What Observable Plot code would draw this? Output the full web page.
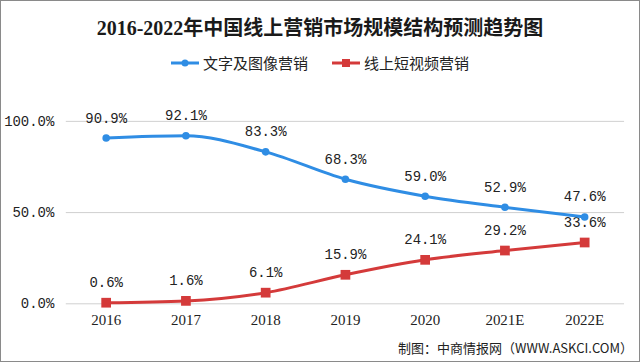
<!DOCTYPE html>
<html>
<head>
<meta charset="utf-8">
<script src="https://cdn.jsdelivr.net/npm/d3@7"></script>
<script src="https://cdn.jsdelivr.net/npm/@observablehq/plot@0.6"></script>
<style>
  html, body { margin: 0; padding: 0; background: #fff; }
  #wrap { position: relative; width: 638px; height: 360px; border: 1px solid #8a8a8a; overflow: hidden; background: #fff; }
  #title { position: absolute; left: 0; width: 638px; top: 16px; line-height: 22px; text-align: center; font-family: "Liberation Serif", "Noto Sans CJK SC", serif; font-weight: bold; font-size: 20px; color: #1a1a1a; }
  #legend { position: absolute; left: 0; width: 638px; top: 52px; line-height: 20px; text-align: center; font-family: "Noto Sans CJK SC", sans-serif; font-size: 15px; color: #222; }
  .li { display: inline-flex; align-items: center; margin: 0 12px; }
  .li svg { margin-right: 4px; }
  #chart { position: absolute; left: 0; top: 80px; }
  #caption { position: absolute; right: 6px; top: 338px; line-height: 18px; font-family: "Noto Sans CJK SC", sans-serif; font-size: 13px; color: #222; }
</style>
</head>
<body>
<div id="wrap">
  <div id="title"></div>
  <div id="legend"></div>
  <div id="chart"></div>
  <div id="caption"></div>
</div>
<script>
const titleText = "2016-2022年中国线上营销市场规模结构预测趋势图";
const captionText = "制图：中商情报网（WWW.ASKCI.COM）";
const years = ["2016", "2017", "2018", "2019", "2020", "2021E", "2022E"];
const seriesNames = ["文字及图像营销", "线上短视频营销"];
const textImage = [90.9, 92.1, 83.3, 68.3, 59.0, 52.9, 47.6];
const shortVideo = [0.6, 1.6, 6.1, 15.9, 24.1, 29.2, 33.6];
const yTicks = [0, 50, 100];
const colors = ["#2f8de4", "#d43a3a"];

document.getElementById("title").textContent = titleText;
document.getElementById("caption").textContent = captionText;

const legend = document.getElementById("legend");
seriesNames.forEach((name, i) => {
  const item = document.createElement("span");
  item.className = "li";
  const marker = i === 0
    ? `<circle cx="14" cy="6" r="3.5" fill="${colors[0]}"/>`
    : `<rect x="10" y="2" width="8" height="8" fill="${colors[1]}"/>`;
  item.innerHTML = `<svg width="28" height="12"><line x1="0" x2="28" y1="6" y2="6" stroke="${colors[i]}" stroke-width="3"/>${marker}</svg><span>${name}</span>`;
  legend.appendChild(item);
});

const blue = years.map((y, i) => ({year: y, value: textImage[i]}));
const red = years.map((y, i) => ({year: y, value: shortVideo[i]}));
const fmt = d => d.toFixed(1) + "%";

const chart = Plot.plot({
  width: 640,
  height: 260,
  marginLeft: 65,
  marginRight: 15,
  marginTop: 40,
  marginBottom: 37,
  style: {fontFamily: "Liberation Mono, monospace", fontSize: "14px", color: "#222", background: "transparent"},
  x: {type: "point", domain: years, padding: 0.5, label: null},
  y: {domain: [0, 100], label: null},
  marks: [
    Plot.gridY(yTicks, {stroke: "#d0d0d0", strokeOpacity: 1, strokeWidth: 1}),
    Plot.axisY(yTicks, {tickSize: 0, tickPadding: 12, tickFormat: fmt, label: null, fontSize: 14, fontFamily: "Liberation Mono, monospace"}),
    Plot.axisX({tickSize: 0, tickPadding: 11, label: null, fontSize: 15, fontFamily: "Liberation Serif, serif"}),
    Plot.line(red, {x: "year", y: "value", stroke: colors[1], strokeWidth: 3, curve: "monotone-x"}),
    Plot.dot(red, {x: "year", y: "value", symbol: "square", r: 5.5, fill: colors[1], stroke: null}),
    Plot.text(red, {x: "year", y: "value", text: d => fmt(d.value), dy: -20, fontSize: 14, fill: "#222"}),
    Plot.text(blue, {x: "year", y: "value", text: d => fmt(d.value), dy: -20, fontSize: 14, fill: "#222"}),
    Plot.line(blue, {x: "year", y: "value", stroke: colors[0], strokeWidth: 3, curve: "monotone-x"}),
    Plot.dot(blue, {x: "year", y: "value", r: 3.8, fill: colors[0], stroke: null})
  ]
});
document.getElementById("chart").appendChild(chart);
</script>
</body>
</html>
